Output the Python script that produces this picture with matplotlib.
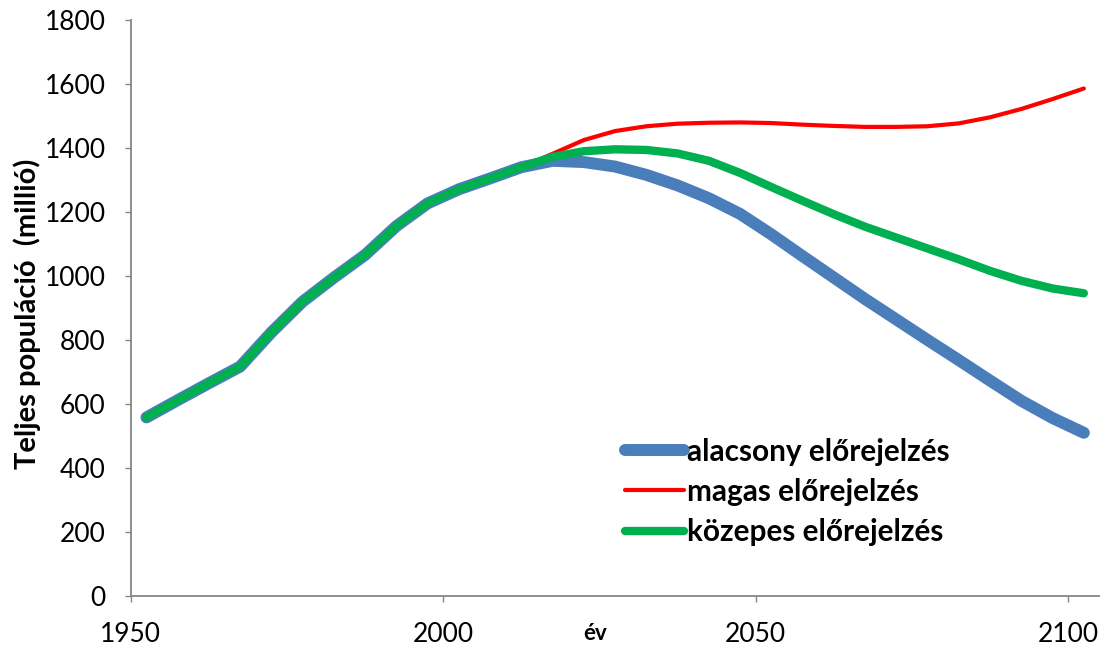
import matplotlib.pyplot as plt

# mid-period years (5-year steps)
years = [1952.5 + 5 * i for i in range(31)]

# shared history up to 2012.5
history = [558, 612, 665, 717, 824, 920, 995, 1066, 1156, 1227, 1271, 1305, 1340]

low_proj = [1360, 1356, 1342, 1316, 1283, 1243, 1194, 1130, 1062, 995, 928, 864,
            800, 737, 673, 610, 556, 510]
high_proj = [1382, 1425, 1453, 1468, 1476, 1479, 1480, 1478, 1473, 1469, 1466, 1466,
             1468, 1477, 1496, 1522, 1553, 1586]
mid_proj = [1372, 1390, 1396, 1394, 1383, 1360, 1322, 1278, 1235, 1193, 1154, 1120,
            1086, 1052, 1016, 985, 961, 946]

low = history + low_proj
high = history + high_proj
mid = history + mid_proj

labels = ['alacsony előrejelzés', 'magas előrejelzés', 'közepes előrejelzés']
x_ticks = [1950, 2000, 2050, 2100]
y_ticks = list(range(0, 1801, 200))

plt.rcParams['font.family'] = ['Lato', 'DejaVu Sans']

fig = plt.figure(figsize=(11.02, 6.5), dpi=100)
ax = fig.add_axes([0.1187, 0.0831, 0.879, 0.8861])

ax.plot(years, low, color='#4A7EBB', lw=8.6, solid_capstyle='round', solid_joinstyle='round', label=labels[0])
ax.plot(years, high, color='#FF0000', lw=3.0, solid_capstyle='round', solid_joinstyle='round', label=labels[1])
ax.plot(years, mid, color='#00B050', lw=6.0, solid_capstyle='round', solid_joinstyle='round', label=labels[2])

ax.set_xlim(1950, 2105)
ax.set_ylim(0, 1800)
ax.set_xticks(x_ticks)
ax.set_yticks(y_ticks)
ax.tick_params(axis='both', direction='out', length=4, width=1, color='#868686', labelsize=19)
ax.tick_params(axis='y', pad=14)
ax.tick_params(axis='x', pad=15)

for side in ['top', 'right']:
    ax.spines[side].set_visible(False)
for side in ['left', 'bottom']:
    ax.spines[side].set_color('#868686')
    ax.spines[side].set_linewidth(1.3)

ax.set_ylabel('Teljes populáció  (millió)', fontsize=21, fontweight='bold')
ax.yaxis.set_label_coords(-0.093, 0.49)
fig.text(0.54, 0.026, 'év', fontsize=16, fontweight='bold', ha='center', va='center')

ax.legend(loc='center left', bbox_to_anchor=(0.51, 0.181), frameon=False, handlelength=2.0,
          handletextpad=0.1, labelspacing=0.41, borderpad=0, borderaxespad=0,
          prop={'size': 21.4, 'weight': 'bold'})

fig.savefig('out.png', dpi=100)
